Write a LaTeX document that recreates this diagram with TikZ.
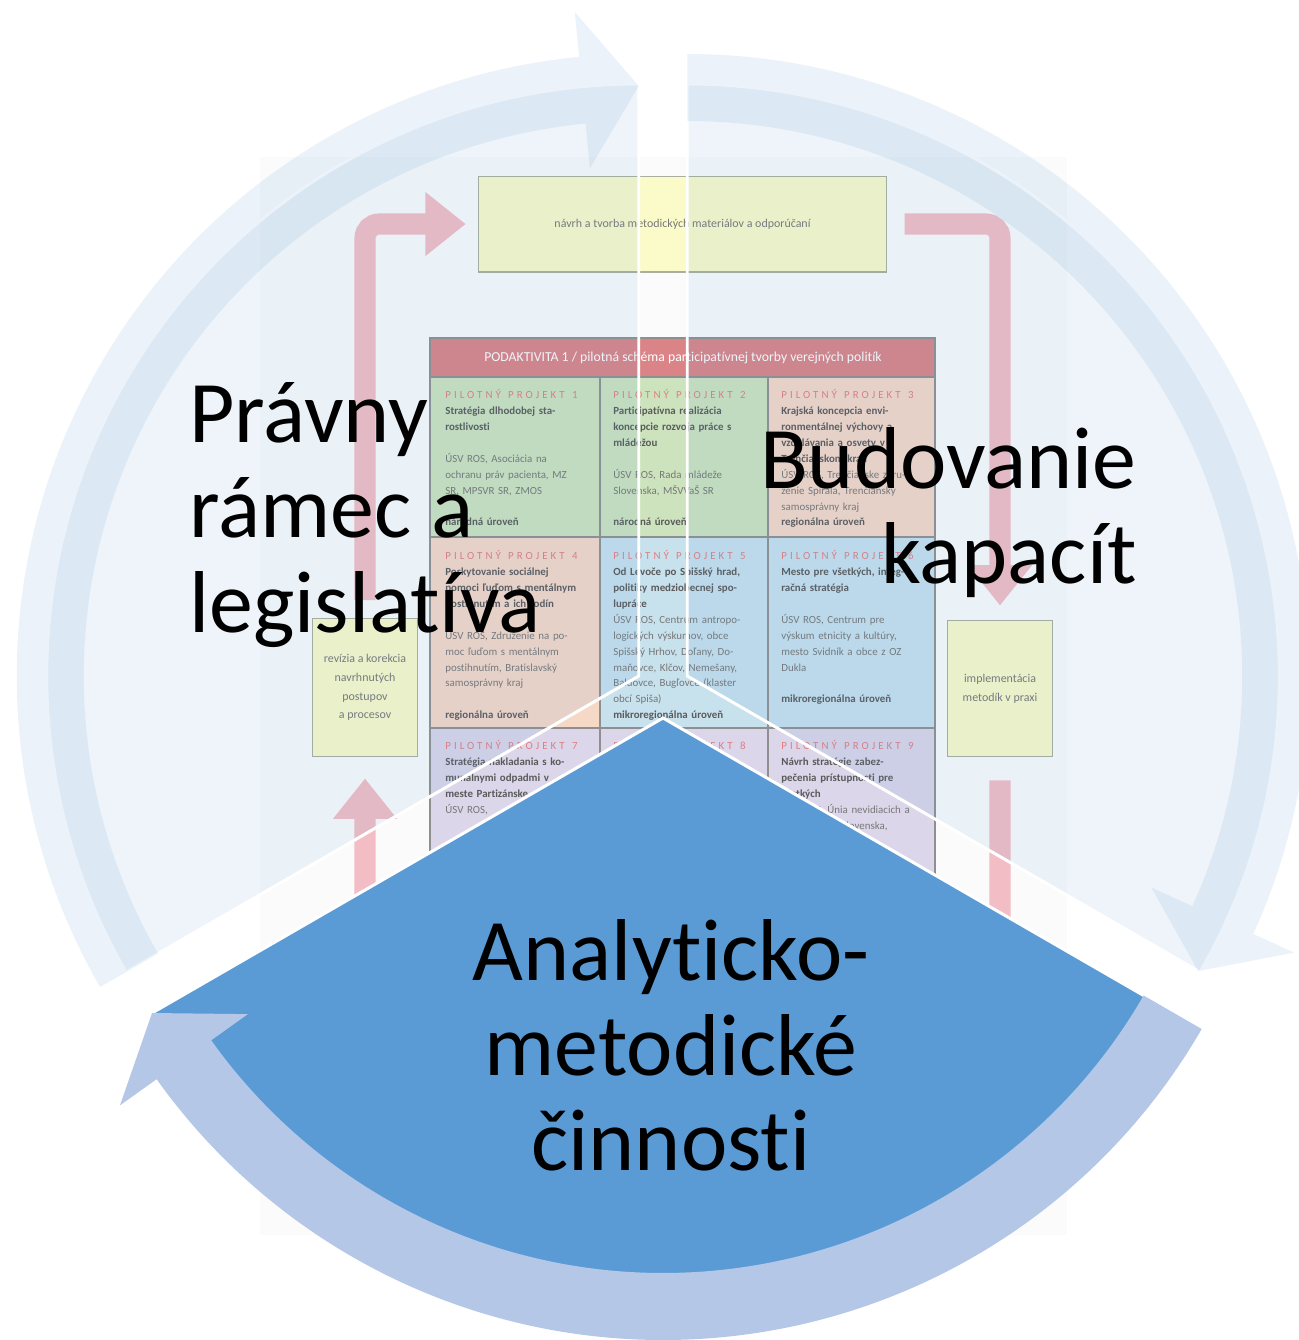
\documentclass[tikz,border=0pt]{standalone}
\usepackage{fontspec}
\setmainfont{Carlito}[Ligatures=NoCommon]
\newfontfamily\spacedfont[LetterSpace=28,Ligatures=NoCommon]{Carlito}
\usetikzlibrary{arrows.meta}

\definecolor{segblue}{HTML}{5B9BD5}
\definecolor{arrowblue}{HTML}{B4C7E7}
\definecolor{imgbg}{HTML}{FBFBFB}
\definecolor{boxyellow}{HTML}{FBFBC9}
\definecolor{boxline}{HTML}{A9AE9E}
\definecolor{flowpink}{HTML}{F3BDC5}
\definecolor{headred}{HTML}{DB8487}
\definecolor{cellgreen}{HTML}{CDE3BE}
\definecolor{cellpeach}{HTML}{F6D8C7}
\definecolor{cellblue}{HTML}{C7E1ED}
\definecolor{celllilac}{HTML}{DBD6EA}
\definecolor{gridline}{HTML}{8F8F8F}
\definecolor{pilotred}{HTML}{E27E80}
\definecolor{celltext}{HTML}{777777}
\definecolor{celltitle}{HTML}{5A5A5A}

\newcommand\pilot[1]{{\spacedfont\color{pilotred}PILOTNÝ\ \ PROJEKT\ \ #1}}

% one slice of the cycle: apex, start angle, style
\newcommand\cycseg[3]{\path[#3] (#1) -- ++(#2:592) arc[start angle=#2, end angle=#2+120, radius=592] -- cycle;}
% circular arrow round a slice: apex, tail angle, tip angle, style
\newcommand\cycarrow[4]{%
  \begin{scope}[shift={(#1)}]
    \fill[#4] (#2:622) arc[start angle=#2, end angle=#3+5.5, radius=622]
      -- (#3+5.5:667) -- (#3:590) -- (#3+5.5:510) -- (#3+5.5:555)
      arc[start angle=#3+5.5, end angle=#2, radius=555] -- cycle;
  \end{scope}}

\tikzset{
  flowbox/.style={draw=boxline, line width=0.8pt, fill=boxyellow, text=celltext, align=center, inner sep=0,
    font=\fontsize{6.8}{10.6}\selectfont},
  flow/.style={draw=flowpink, line width=12pt, rounded corners=8pt, -{Triangle[width=35pt,length=23pt]}},
  cell/.style={text width=82pt, align=left, inner sep=0, anchor=north west, text=celltext,
    font=\fontsize{6.2}{9.07}\selectfont},
  segtext/.style={font=\fontsize{50}{54}\selectfont, inner sep=0, text=black},
  tinted/.style={fill=segblue, fill opacity=0.1, draw=white, draw opacity=1, line width=1.7pt},
  solidseg/.style={fill=segblue, draw=white, line width=1.7pt},
}

\begin{document}
\begin{tikzpicture}[x=0.02cm, y=0.02cm]
\useasboundingbox (0,0) rectangle (1299,-1340);
\fill[white] (0,0) rectangle (1299,-1340);

% faded scheme in the background
\fill[imgbg] (260,-157) rectangle (1067,-1235);
\node[flowbox, minimum width=232pt, minimum height=54.4pt] (navrh) at (682.5,-224)
  {návrh a tvorba metodických materiálov a odporúčaní};
\node[flowbox, minimum width=60pt, minimum height=78.8pt] (revizia) at (365,-687.5)
  {revízia a korekcia\\navrhnutých\\postupov\\a procesov};
\node[flowbox, minimum width=60pt, minimum height=77.7pt] (impl) at (1000,-688.5)
  {implementácia\\metodík v praxi};
\draw[flow, shorten <=10pt, shorten >=7pt] (revizia.north) |- (navrh.west);
\draw[flow, shorten <=10pt, shorten >=8pt] (navrh.east) -| (impl.north);
\draw[flow, shorten <=13pt, shorten >=12pt] (impl.south) -- ++(0,-393) -| (revizia.south);

% table of pilot projects
\fill[headred] (430,-338) rectangle (935,-377);
\fill[cellgreen] (430,-377) rectangle (768,-537);
\fill[cellpeach] (768,-377) rectangle (935,-537);
\fill[cellpeach] (430,-537) rectangle (600,-728);
\fill[cellblue] (600,-537) rectangle (935,-728);
\fill[celllilac] (430,-728) rectangle (935,-900);
\draw[gridline, line width=0.6pt] (430,-377) -- (935,-377) (430,-537) -- (935,-537) (430,-728) -- (935,-728)
  (600,-377) -- (600,-900) (768,-377) -- (768,-900);
\draw[gridline, line width=1pt] (430,-338) rectangle (935,-900);
\node[text=white, inner sep=0, font=\fontsize{7.8}{9}\selectfont] (podakt) at (683,-358)
  {PODAKTIVITA 1 / pilotná schéma participatívnej tvorby verejných politík};

\node[cell] (pp1) at (445,-389) {\pilot{1}\\ {\color{celltitle}\bfseries Stratégia dlhodobej sta-\\rostlivosti}\\[9.07pt]
  ÚSV ROS, Asociácia na\\ochranu práv pacienta, MZ\\SR, MPSVR SR, ZMOS\\[9.07pt] {\color{celltitle}\bfseries národná úroveň}};
\node[cell] (pp2) at (613,-389) {\pilot{2}\\ {\color{celltitle}\bfseries Participatívna realizácia\\koncepcie rozvoja práce s\\mládežou}\\[9.07pt]
  ÚSV ROS, Rada mládeže\\Slovenska, MŠVVaŠ SR\\[9.07pt] {\color{celltitle}\bfseries národná úroveň}};
\node[cell] (pp3) at (781,-389) {\pilot{3}\\ {\color{celltitle}\bfseries Krajská koncepcia envi-\\ronmentálnej výchovy a\\vzdelávania a osvety v\\Trenčianskom kraji}\\
  ÚSV ROS, Trenčianske zdru-\\ženie Spirála, Trenčiansky\\samosprávny kraj\\ {\color{celltitle}\bfseries regionálna úroveň}};
\node[cell] (pp4) at (445,-550) {\pilot{4}\\ {\color{celltitle}\bfseries Poskytovanie sociálnej\\pomoci ľuďom s mentálnym\\postihnutím a ich rodín}\\[9.07pt]
  ÚSV ROS, Združenie na po-\\moc ľuďom s mentálnym\\postihnutím, Bratislavský\\samosprávny kraj\\[9.07pt] {\color{celltitle}\bfseries regionálna úroveň}};
\node[cell] (pp5) at (613,-550) {\pilot{5}\\ {\color{celltitle}\bfseries Od Levoče po Spišský hrad,\\politiky medziobecnej spo-\\lupráce}\\
  ÚSV ROS, Centrum antropo-\\logických výskumov, obce\\Spišský Hrhov, Doľany, Do-\\maňovce, Klčov, Nemešany,\\Baldovce, Bugľovce (klaster\\obcí Spiša)\\ {\color{celltitle}\bfseries mikroregionálna úroveň}};
\node[cell] (pp6) at (781,-550) {\pilot{6}\\ {\color{celltitle}\bfseries Mesto pre všetkých, integ-\\račná stratégia}\\[9.07pt]
  ÚSV ROS, Centrum pre\\výskum etnicity a kultúry,\\mesto Svidník a obce z OZ\\Dukla\\[9.07pt] {\color{celltitle}\bfseries mikroregionálna úroveň}};
\node[cell] (pp7) at (445,-740) {\pilot{7}\\ {\color{celltitle}\bfseries Stratégia nakladania s ko-\\munálnymi odpadmi v\\meste Partizánske}\\ ÚSV ROS,};
\node[cell] (pp8) at (613,-740) {\pilot{8}};
\node[cell] (pp9) at (781,-740) {\pilot{9}\\ {\color{celltitle}\bfseries Návrh stratégie zabez-\\pečenia prístupnosti pre\\všetkých}\\
  ÚSV ROS, Únia nevidiacich a\\slabozrakých Slovenska,};

% the cycle: three slices and their arrows
\coordinate (ctr) at (663,-690);
\path (ctr) ++(150:28) coordinate (apexL);
\path (ctr) ++(30:28) coordinate (apexR);
\path (ctr) ++(270:28) coordinate (apexB);
\cycseg{apexL}{90}{tinted}
\cycseg{apexR}{-30}{tinted}
\cycseg{apexB}{210}{solidseg}
\cycarrow{apexL}{210}{90}{segblue, opacity=0.12}
\cycarrow{apexR}{90}{-30}{segblue, opacity=0.12}
\cycarrow{apexB}{330}{210}{arrowblue}

% base anchor of a multi-line node sits on its last line
\node[segtext, align=left, anchor=base west] (pravo) at (189,-632) {Právny\\rámec a\\legislatíva};
\node[segtext, align=right, anchor=base east] (kapac) at (1137,-583) {Budovanie\\kapacít};
\node[segtext, align=center, anchor=base] (analyt) at (671,-1170) {Analyticko-\\metodické\\činnosti};
\end{tikzpicture}
\end{document}
